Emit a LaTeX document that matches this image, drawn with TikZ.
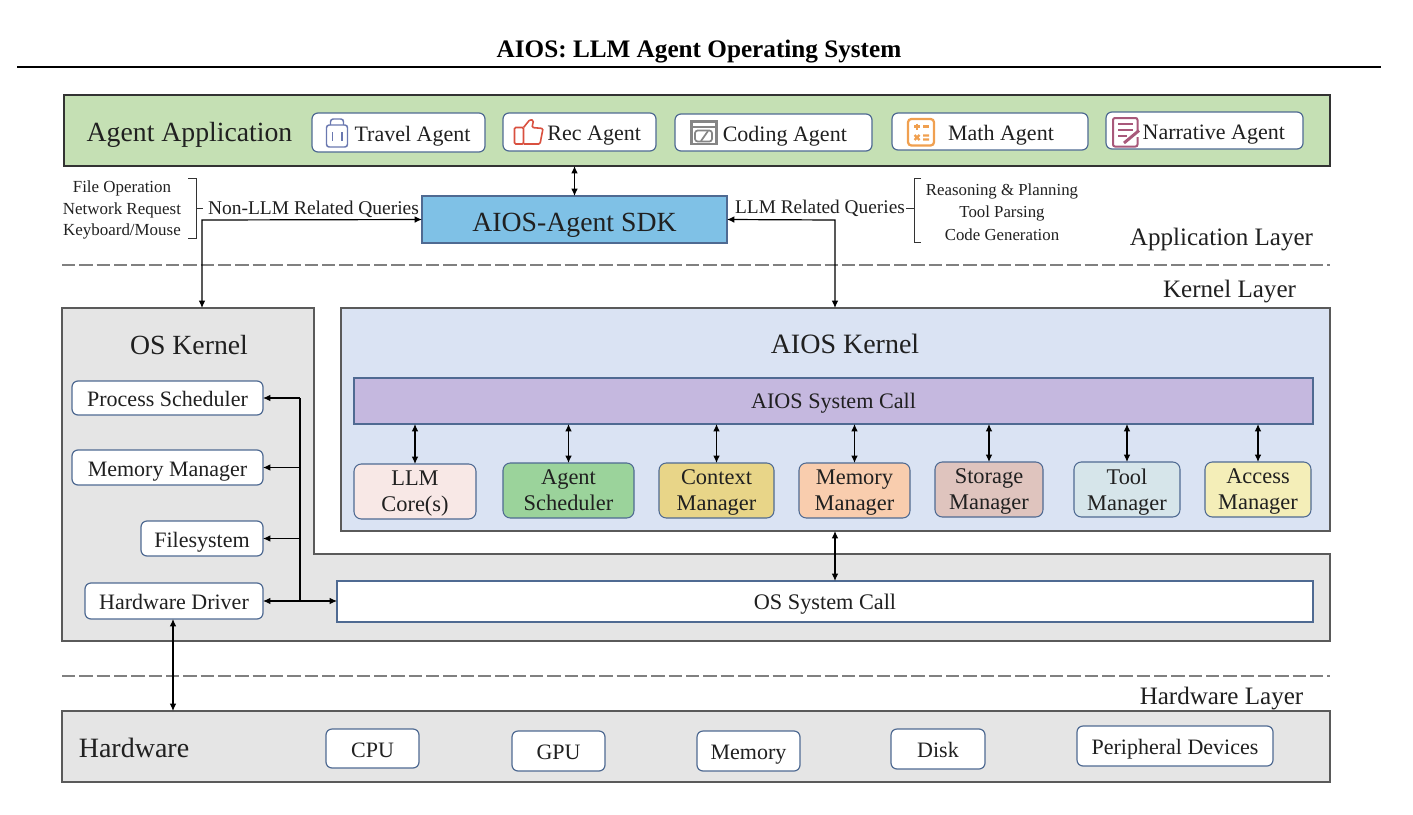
\documentclass[tikz,border=0pt]{standalone}
\usepackage{fontspec}
\setmainfont{Liberation Serif}
\usetikzlibrary{arrows.meta}
\definecolor{appgreen}{HTML}{C5E0B4}
\definecolor{edgeblue}{HTML}{4F6A92}
\definecolor{darkline}{HTML}{333333}
\definecolor{graypanel}{HTML}{E5E5E5}
\definecolor{grayline}{HTML}{5A5A5A}
\definecolor{dashgray}{HTML}{808080}
\definecolor{textgray}{HTML}{202020}
\definecolor{sdkblue}{HTML}{7FC1E6}
\definecolor{kernelblue}{HTML}{DAE3F3}
\definecolor{callpurple}{HTML}{C5B8DF}
\definecolor{cLLM}{HTML}{F8E8E6}
\definecolor{cAgent}{HTML}{9BD39B}
\definecolor{cContext}{HTML}{E8D588}
\definecolor{cMemory}{HTML}{F9CDAE}
\definecolor{cStorage}{HTML}{DFC4BE}
\definecolor{cTool}{HTML}{D6E5EA}
\definecolor{cAccess}{HTML}{F4EEB8}
\definecolor{iconblue}{HTML}{6A78B0}
\definecolor{iconred}{HTML}{D9503F}
\definecolor{icongray}{HTML}{858585}
\definecolor{iconorange}{HTML}{F0A050}
\definecolor{iconplum}{HTML}{A8587A}
% \bx{name}{x1}{y1}{x2}{y2}{style}{text}
\newcommand\bx[7]{%
  \pgfmathsetmacro\bxw{#4-#2}\pgfmathsetmacro\bxh{#5-#3}%
  \pgfmathsetmacro\bxcx{(#2+#4)/2}\pgfmathsetmacro\bxcy{(#3+#5)/2}%
  \node[#6,minimum width=\bxw*0.75pt,minimum height=\bxh*0.75pt] (#1) at (\bxcx,\bxcy) {#7};}
\tikzset{
  panel/.style={draw=darkline,line width=0.9pt,inner sep=0pt,outer sep=0pt},
  chip/.style={draw=edgeblue,line width=0.9pt,fill=white,rounded corners=4.5pt,inner sep=0pt,outer sep=0pt,text=textgray,text height=13pt,text depth=0pt,font=\fontsize{16.5}{16.5}\selectfont},
  mod/.style={draw=edgeblue,line width=0.8pt,rounded corners=5.5pt,inner sep=0pt,outer sep=0pt,align=center,text=textgray,text depth=0pt,font=\fontsize{16.8}{19.5}\selectfont},
  lbl/.style={inner sep=0pt,outer sep=0pt,align=center,text=textgray},
  both/.style={line width=0.9pt,black,{Latex[length=5.5pt,width=5pt]}-{Latex[length=5.5pt,width=5pt]}},
  one/.style={line width=0.9pt,black,-{Latex[length=5.5pt,width=5pt]}},
  layerline/.style={draw=dashgray,line width=1.5pt,dash pattern=on 10pt off 3pt},
  brace/.style={line width=0.65pt,darkline},
}
\begin{document}
\begin{tikzpicture}[x=0.75pt,y=-0.75pt]
\useasboundingbox (0,0) rectangle (1413,814);
\fill[white] (0,0) rectangle (1413,814);
% title
\node[lbl,text=black,font=\bfseries\fontsize{18.9}{18.9}\selectfont] (title) at (699,52) {AIOS: LLM Agent Operating System};
\coordinate (ruleL) at (17,67); \coordinate (ruleR) at (1381,67);
\draw[line width=1.5pt,black] (ruleL) -- (ruleR);
% application panel
\bx{app}{64}{95}{1330}{166}{panel,fill=appgreen}{}
\node[lbl,font=\fontsize{20.8}{20.8}\selectfont] (apptext) at (189.5,135) {Agent Application};
\bx{travel}{312}{113}{485}{152}{chip}{\hspace*{21pt}Travel Agent}
\bx{rec}{503}{113}{656}{151}{chip}{\hspace*{22pt}Rec Agent}
\bx{coding}{675}{114}{872}{151}{chip}{\hspace*{17pt}Coding Agent}
\bx{math}{892}{113}{1088}{150}{chip}{\hspace*{16.5pt}Math Agent}
\bx{narr}{1106}{112}{1303}{149}{chip}{\hspace*{14pt}Narrative Agent}
% icons
\begin{scope}[iconblue,line width=1.1pt,rounded corners=2pt]
\draw (326.5,125) rectangle (347.5,147);
\draw (330.5,125) -- (330.5,119) -- (343.5,119) -- (343.5,125);
\draw (332.5,132) -- (332.5,141) (342,132) -- (342,141);
\end{scope}
\begin{scope}[iconred,line width=1.2pt,rounded corners=1pt]
\draw (514.5,127.5) rectangle (523.5,144);
\draw (523.5,127.5) -- (530,119.5) -- (533.5,120.5) -- (532,127.5) -- (543,128.5) -- (540,144) -- (523.5,144);
\end{scope}
\begin{scope}[icongray,line width=1.6pt]
\draw (691.5,121.5) rectangle (716.5,144);
\draw (691.5,127) -- (716.5,127);
\draw[rounded corners=2pt,line width=1.3pt] (695,130.5) rectangle (712,141.5);
\draw[line width=1.3pt] (701,141) -- (708,131);
\end{scope}
\begin{scope}[iconorange,line width=1.7pt]
\draw[rounded corners=2.5pt] (908,119) rectangle (934,145.5);
\draw (914,126.5) -- (920,126.5) (917,123.5) -- (917,129.5) (923,126.5) -- (929,126.5);
\draw (914.5,135) -- (919.5,140) (919.5,135) -- (914.5,140) (923,135.5) -- (929,135.5) (923,139.5) -- (929,139.5);
\end{scope}
\begin{scope}[iconplum,line width=1.5pt]
\draw[rounded corners=1.5pt] (1137.5,131) -- (1137.5,118) -- (1113,118) -- (1113,146.5) -- (1137.5,146.5) -- (1137.5,137);
\draw (1118,124) -- (1133,124) (1118,130) -- (1133,130) (1118,136) -- (1127,136);
\draw[line width=2.2pt] (1124,143) -- (1139,130.5);
\end{scope}
% SDK
\bx{sdk}{422}{196}{727}{243}{draw=edgeblue,line width=0.9pt,fill=sdkblue,inner sep=0pt,outer sep=0pt,text=textgray,text height=18.2pt,text depth=0pt,font=\fontsize{20.8}{20.8}\selectfont}{AIOS-Agent SDK}
\draw[both] (app.south -| sdk.north) -- (sdk.north);
% left queries
\node[lbl,font=\fontsize{12.7}{16}\selectfont] (nonlist) at (122,210) {File Operation\\Network Request\\Keyboard/Mouse};
\node[lbl,font=\fontsize{14.6}{14.6}\selectfont] (nonq) at (313.5,209.5) {Non-LLM Related Queries};
\coordinate (lbT) at (188,178); \coordinate (lbB) at (188,238); \coordinate (lbS) at (203,208);
\draw[brace] (lbT) -- (196,178) -- (196,238) -- (lbB);
\draw[brace] (196,208) -- (lbS);
% right queries
\node[lbl,font=\fontsize{14.5}{14.5}\selectfont] (llmq) at (820,208.5) {LLM Related Queries};
\node[lbl,font=\fontsize{12.6}{17}\selectfont] (llmlist) at (1002,212) {Reasoning \& Planning\\Tool Parsing\\Code Generation};
\coordinate (rbT) at (921,178); \coordinate (rbB) at (921,242); \coordinate (rbS) at (906,208);
\draw[brace] (rbT) -- (914,178) -- (914,242) -- (rbB);
\draw[brace] (rbS) -- (914,208);
% layers
\node[lbl,font=\fontsize{18.8}{18.8}\selectfont] (applayer) at (1221.5,240) {Application Layer};
\coordinate (dash1L) at (62,264.5); \coordinate (dash1R) at (1330,264.5);
\draw[layerline] (dash1L) -- (dash1R);
\node[lbl,font=\fontsize{18.8}{18.8}\selectfont] (kernlayer) at (1229.5,292) {Kernel Layer};
\coordinate (dash2L) at (62,676); \coordinate (dash2R) at (1330,676);
\draw[layerline] (dash2L) -- (dash2R);
\node[lbl,font=\fontsize{18.8}{18.8}\selectfont] (hwlayer) at (1221.5,698) {Hardware Layer};
% OS kernel L shape
\draw[panel,fill=graypanel,draw=grayline] (62,308) -- (314,308) -- (314,554) -- (1330,554) -- (1330,641) -- (62,641) -- cycle;
\coordinate (osTop) at (202,308);
\node[lbl,font=\fontsize{20.8}{20.8}\selectfont] (ostext) at (189,345) {OS Kernel};
\bx{proc}{72}{381}{263}{415}{chip}{Process Scheduler}
\bx{memm}{72}{450}{263}{485}{chip}{Memory Manager}
\bx{fs}{141}{521}{263}{556}{chip}{Filesystem}
\bx{drv}{85}{583}{263}{619}{chip}{Hardware Driver}
\bx{oscall}{337}{581}{1313}{622}{draw=edgeblue,line width=0.8pt,fill=white,inner sep=0pt,outer sep=0pt,text=textgray,text height=12.6pt,text depth=0pt,font=\fontsize{16.7}{16.7}\selectfont}{OS System Call}
% AIOS kernel
\bx{aios}{341}{308}{1330}{531}{draw=grayline,line width=0.9pt,fill=kernelblue,inner sep=0pt,outer sep=0pt}{}
\node[lbl,font=\fontsize{21}{21}\selectfont] (aiostext) at (845,344) {AIOS Kernel};
\bx{sys}{354}{378}{1313}{424}{draw=edgeblue,line width=0.8pt,fill=callpurple,inner sep=0pt,outer sep=0pt,text=textgray,text height=11.1pt,text depth=0pt,font=\fontsize{16.6}{16.6}\selectfont}{AIOS System Call}
\bx{m1}{354}{464}{476}{519}{mod,fill=cLLM}{LLM\\Core(s)}
\bx{m2}{503}{463}{634}{518}{mod,fill=cAgent}{Agent\\Scheduler}
\bx{m3}{659}{463}{774}{518}{mod,fill=cContext}{Context\\Manager}
\bx{m4}{799}{463}{910}{518}{mod,fill=cMemory}{Memory\\Manager}
\bx{m5}{935}{462}{1043}{517}{mod,fill=cStorage}{Storage\\Manager}
\bx{m6}{1074}{462}{1180}{517}{mod,fill=cTool}{Tool\\Manager}
\bx{m7}{1205}{462}{1311}{517}{mod,fill=cAccess}{Access\\Manager}
\foreach \m in {m1,m2,m3,m4,m5,m6,m7}{\draw[both] (sys.south -| \m.north) -- (\m.north);}
% arrows of the OS kernel
\coordinate (sdkL) at (202,220);
\draw[both] (sdk.west) -- (sdkL) -- (sdkL |- osTop);
\coordinate (sdkR) at (835,220);
\draw[both] (sdk.east) -- (sdkR) -- (sdkR |- aios.north);
\draw[both] (aios.south -| sdkR) -- (oscall.north -| sdkR);
\coordinate (busT) at (300,398);
\coordinate (busB) at (300,601);
\draw[one] (busT) -- (proc.east |- busT);
\draw[line width=0.9pt] (busT) -- (busB);
\draw[one] (busT |- memm.east) -- (memm.east);
\draw[one] (busT |- fs.east) -- (fs.east);
\draw[both] (drv.east |- busB) -- (oscall.west |- busB);
% hardware
\bx{hw}{62}{711}{1330}{782}{panel,fill=graypanel,draw=grayline}{}
\coordinate (hwArrow) at (173,711);
\draw[both] (hwArrow |- drv.south) -- (hwArrow);
\node[lbl,font=\fontsize{21}{21}\selectfont] (hwtext) at (134,748) {Hardware};
\bx{cpu}{326}{729}{419}{768}{chip}{CPU}
\bx{gpu}{512}{731}{605}{771}{chip}{GPU}
\bx{mem}{697}{731}{800}{771}{chip}{Memory}
\bx{disk}{891}{729}{985}{769}{chip}{Disk}
\bx{per}{1077}{726}{1273}{766}{chip}{Peripheral Devices}
\end{tikzpicture}
\end{document}
